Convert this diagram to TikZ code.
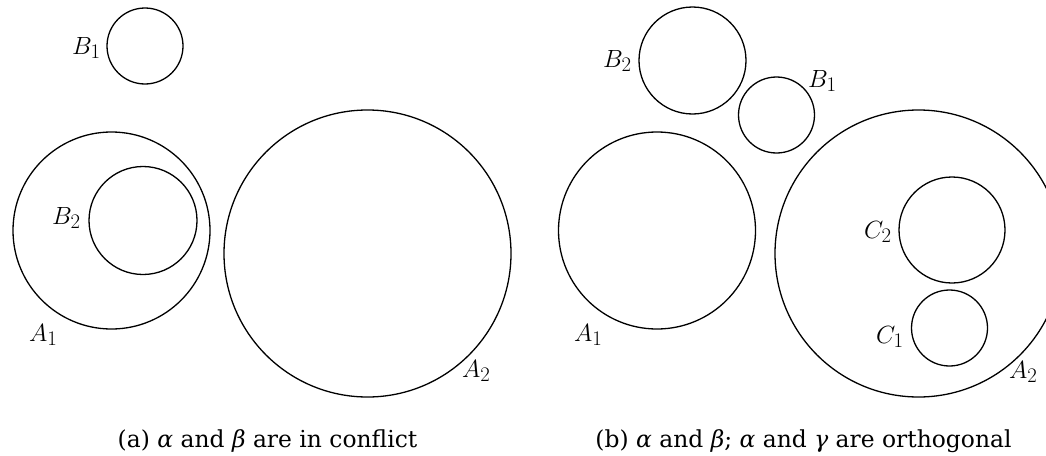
\documentclass[tikz,border=0pt]{standalone}
\usepackage{fontspec}
\newfontfamily\capfont{DejaVu Serif}
\DeclareMathSizes{24}{24}{20}{15}
\begin{document}
\begin{tikzpicture}[x=1pt,y=-1pt,
  ring/.style={draw, circle, line width=1.3pt, inner sep=0pt, minimum size=#1},
  lab/.style={anchor=base west, inner sep=0pt, font=\fontsize{24}{24}\selectfont},
  captext/.style={anchor=base, inner sep=0pt, font=\capfont\fontsize{23.4}{26}\selectfont}]
\useasboundingbox (0,0) rectangle (1046,455);
\clip (0,0) rectangle (1046,455);
% panel (a)
\node[ring=76pt]  (aB1) at (145,46) {};
\node[ring=197pt] (aA1) at (111.5,230.5) {};
\node[ring=108pt] (aB2) at (143,220.5) {};
\node[ring=287pt] (aA2) at (367.5,253.5) {};
\node[lab] (laB1) at (72,54) {$B_1$};
\node[lab] (laB2) at (52,224) {$B_2$};
\node[lab] (laA1) at (29,341) {$A_1$};
\node[lab] (laA2) at (462,377) {$A_2$};
\node[captext] (capa) at (267.5,447) {(a) {\itshape α} and {\itshape β} are in conflict};
% panel (b)
\node[ring=107pt] (bB2) at (692.5,60.5) {};
\node[ring=76pt]  (bB1) at (776.5,115) {};
\node[ring=197pt] (bA1) at (657,230.5) {};
\node[ring=287pt] (bA2) at (918.5,253.5) {};
\node[ring=106pt] (bC2) at (952,230) {};
\node[ring=76pt]  (bC1) at (949.5,328) {};
\node[lab] (lbB2) at (603,67) {$B_2$};
\node[lab] (lbB1) at (808,87) {$B_1$};
\node[lab] (lbA1) at (574,341) {$A_1$};
\node[lab] (lbC2) at (864,238) {$C_2$};
\node[lab] (lbC1) at (876,343) {$C_1$};
\node[lab] (lbA2) at (1009,378) {$A_2$};
\node[captext] (capb) at (803.5,447) {(b) {\itshape α} and {\itshape β}; {\itshape α} and {\itshape γ} are orthogonal};
\end{tikzpicture}
\end{document}
